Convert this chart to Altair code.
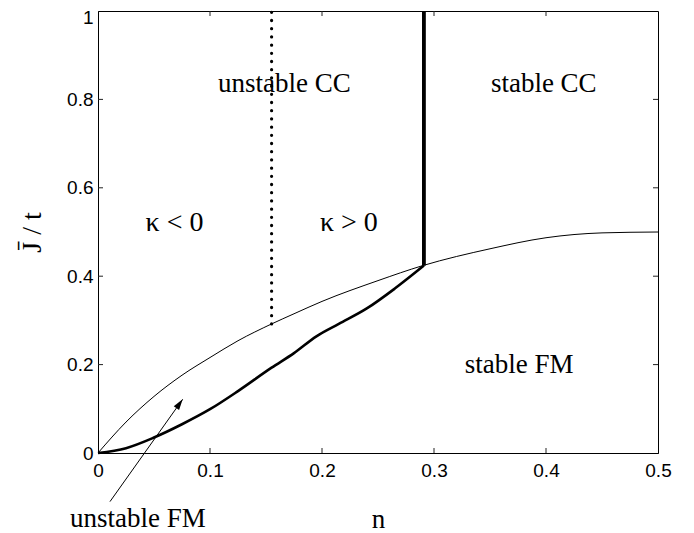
import math
import altair as alt
import pandas as pd

# ---- data ----
# thin boundary curve (upper)
n_thin = [0, 0.025, 0.05, 0.075, 0.1, 0.125, 0.155, 0.175, 0.2, 0.25, 0.29, 0.35, 0.4, 0.45, 0.5]
j_thin = [0, 0.07, 0.128, 0.176, 0.216, 0.254, 0.292, 0.315, 0.343, 0.39, 0.424, 0.462, 0.487, 0.498, 0.5]

# thick boundary curve (lower)
n_thick = [0, 0.025, 0.05, 0.075, 0.1, 0.125, 0.155, 0.175, 0.195, 0.215, 0.24, 0.265, 0.291]
j_thick = [0, 0.011, 0.035, 0.065, 0.099, 0.14, 0.193, 0.226, 0.264, 0.292, 0.327, 0.372, 0.424]

# vertical boundaries
n_dotted = [0.155, 0.155]
j_dotted = [0.292, 1.0]
n_solid = [0.291, 0.291]
j_solid = [0.424, 1.0]

# region labels
lab_text = ["unstable CC", "stable CC", "stable FM", "unstable FM"]
lab_n = [0.1665, 0.398, 0.376, 0.0357]
lab_j = [0.817, 0.817, 0.18, -0.1674]

kap_text = ["\u03ba < 0", "\u03ba > 0"]
kap_n = [0.0683, 0.224]
kap_j = [0.503, 0.503]

# arrow (tail -> head)
arrow_n = [0.0107, 0.0756]
arrow_j = [-0.110, 0.1215]

# axis ticks
x_tick_vals = [0, 0.1, 0.2, 0.3, 0.4, 0.5]
y_tick_vals = [0, 0.2, 0.4, 0.6, 0.8, 1.0]
x_inner_ticks = [0.1, 0.2, 0.3, 0.4]
y_inner_ticks = [0.2, 0.4, 0.6, 0.8]

W, H = 560, 442
XMAX, YMAX = 0.5, 1.0

xs = alt.Scale(domain=[0, XMAX], nice=False, zero=False)
ys = alt.Scale(domain=[0, YMAX], nice=False, zero=False)

x_axis = alt.Axis(values=x_tick_vals, format="~g", title="n", titleY=74,
                  titleBaseline="alphabetic", labelPadding=8, labelFlush=False,
                  labelOverlap=False)
y_axis = alt.Axis(values=y_tick_vals, format="~g", title="J\u0304 / t", titleX=-58,
                  titleBaseline="alphabetic", titleFontSize=28, labelPadding=5,
                  labelOverlap=False, labelFlush=False,
                  labelOffset={"condition": {"test": "datum.value == 1", "value": 6.5}, "value": 0})

thin = alt.Chart(pd.DataFrame({"n": n_thin, "j": j_thin})).mark_line(
    color="black", strokeWidth=1, interpolate="monotone"
).encode(
    x=alt.X("n:Q", scale=xs, axis=x_axis),
    y=alt.Y("j:Q", scale=ys, axis=y_axis),
)

thick = alt.Chart(pd.DataFrame({"n": n_thick, "j": j_thick})).mark_line(
    color="black", strokeWidth=2.6, interpolate="monotone"
).encode(x=alt.X("n:Q", scale=xs), y=alt.Y("j:Q", scale=ys))

solid = alt.Chart(pd.DataFrame({"n": n_solid, "j": j_solid})).mark_line(
    color="black", strokeWidth=3.8
).encode(x=alt.X("n:Q", scale=xs), y=alt.Y("j:Q", scale=ys))

dotted = alt.Chart(pd.DataFrame({"n": n_dotted, "j": j_dotted})).mark_line(
    color="black", strokeWidth=3.2, strokeDash=[0.1, 8.1], strokeCap="round"
).encode(x=alt.X("n:Q", scale=xs), y=alt.Y("j:Q", scale=ys))

arrow_df = pd.DataFrame({"n": arrow_n, "j": arrow_j})
arrow_line = alt.Chart(arrow_df).mark_line(color="black", strokeWidth=1).encode(
    x=alt.X("n:Q", scale=xs), y=alt.Y("j:Q", scale=ys)
)
dx = (arrow_n[1] - arrow_n[0]) * W / XMAX
dy = (arrow_j[1] - arrow_j[0]) * H / YMAX
ang = math.degrees(math.atan2(dx, dy))
arrow_head = alt.Chart(arrow_df.iloc[[1]]).mark_point(
    shape="M0,0L-0.38,1.25L0.38,1.25Z", filled=True, color="black", opacity=1,
    size=300, angle=ang
).encode(x=alt.X("n:Q", scale=xs), y=alt.Y("j:Q", scale=ys))

labels = alt.Chart(pd.DataFrame({"t": lab_text, "n": lab_n, "j": lab_j})).mark_text(
    font="Liberation Serif", fontSize=27, align="center", baseline="alphabetic", color="black"
).encode(x=alt.X("n:Q", scale=xs), y=alt.Y("j:Q", scale=ys), text="t:N")

kappas = alt.Chart(pd.DataFrame({"t": kap_text, "n": kap_n, "j": kap_j})).mark_text(
    font="Liberation Serif", fontSize=28, align="center", baseline="alphabetic", color="black"
).encode(x=alt.X("n:Q", scale=xs), y=alt.Y("j:Q", scale=ys), text="t:N")

xt = pd.DataFrame({"n": x_inner_ticks})
yt = pd.DataFrame({"j": y_inner_ticks})
tick_style = dict(color="#222222", strokeWidth=1)
tb = alt.Chart(xt).mark_rule(**tick_style).encode(
    x=alt.X("n:Q", scale=xs), y=alt.value(H - 5), y2=alt.value(H))
tt = alt.Chart(xt).mark_rule(**tick_style).encode(
    x=alt.X("n:Q", scale=xs), y=alt.value(0), y2=alt.value(5))
tl = alt.Chart(yt).mark_rule(**tick_style).encode(
    y=alt.Y("j:Q", scale=ys), x=alt.value(0), x2=alt.value(5))
tr = alt.Chart(yt).mark_rule(**tick_style).encode(
    y=alt.Y("j:Q", scale=ys), x=alt.value(W - 5), x2=alt.value(W))

chart = alt.layer(
    thin, thick, solid, dotted, arrow_line, arrow_head, labels, kappas, tb, tt, tl, tr
).properties(
    width=W, height=H,
    autosize=alt.AutoSizeParams(type="none"),
    padding={"left": 90, "top": 3, "right": 28, "bottom": 80},
).configure_view(
    stroke="black", strokeWidth=1
).configure_axis(
    grid=False, ticks=False, domainColor="black", domainWidth=1,
    labelFont="Liberation Sans", labelFontSize=19, labelColor="black",
    titleFont="Liberation Serif", titleFontWeight="normal", titleFontSize=27,
    titleColor="black",
)

chart.save("out.html", embed_options={"renderer": "svg", "actions": False})
